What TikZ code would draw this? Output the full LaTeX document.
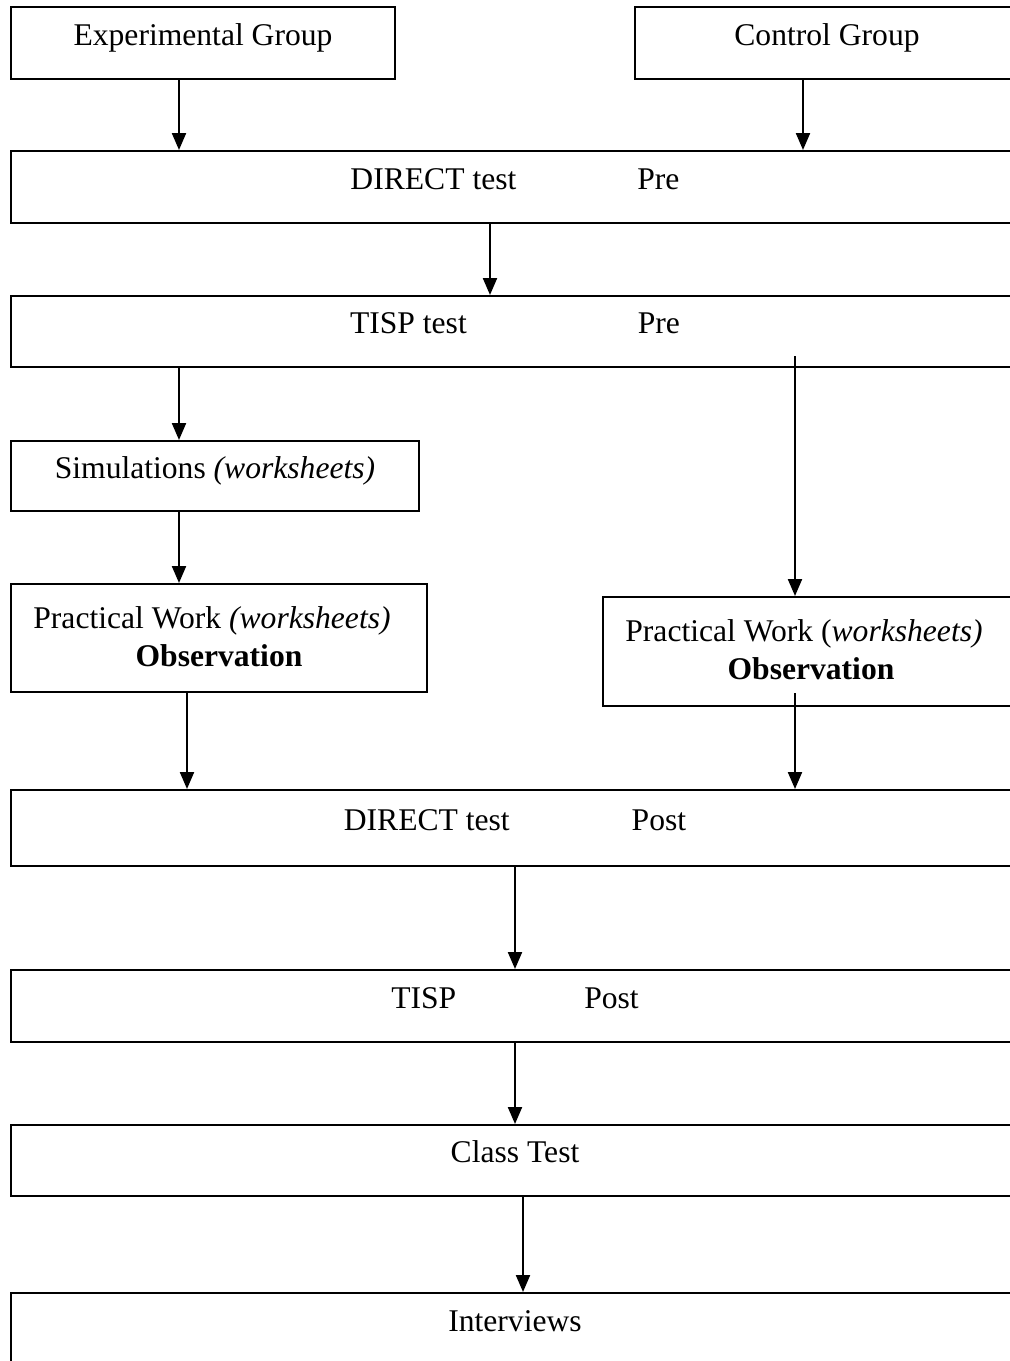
\documentclass[tikz,border=0pt]{standalone}
\usepackage{fontspec}
\setmainfont{Liberation Serif}
\usepackage{tikz}
\usetikzlibrary{arrows.meta}

\tikzset{
  box/.style={draw, line width=2pt, inner sep=0pt, align=center,
    font=\fontsize{31.6}{38}\selectfont},
  onerow/.style={box, text height=0.7em, text depth=0.25em},
  arr/.style={line width=2.2pt, -{Triangle[length=17pt,width=14pt]}}
}

\begin{document}
\begin{tikzpicture}[x=1pt,y=-1pt]
  \useasboundingbox (0,0) rectangle (1010,1361);

  % groups
  \node[onerow, minimum width=384pt, minimum height=72pt] (exp) at (203,43) {Experimental Group};
  \node[onerow, minimum width=384pt, minimum height=72pt] (ctrl) at (827,43) {Control Group};

  % pre tests
  \node[onerow, minimum width=1008pt, minimum height=72pt] (dpre) at (515,187) {DIRECT test\hspace{121pt}Pre};
  \node[onerow, minimum width=1008pt, minimum height=71pt] (tpre) at (515,331.5) {TISP test\hspace{171pt}Pre};

  % treatment
  \node[onerow, minimum width=408pt, minimum height=70pt] (sim) at (215,476) {Simulations \textit{(worksheets)}};
  \node[box, minimum width=416pt, minimum height=108pt] (pwl) at (219,638)
    {\raisebox{3pt}{Practical Work \textit{(worksheets)}\hspace{14pt}}\\ \raisebox{3pt}{\textbf{Observation}}};
  \node[box, minimum width=416pt, minimum height=109pt] (pwr) at (811,651.5)
    {\raisebox{3pt}{Practical Work (\textit{worksheets)}\hspace{14pt}}\\ \raisebox{3pt}{\textbf{Observation}}};

  % post tests
  \node[onerow, minimum width=1008pt, minimum height=76pt] (dpost) at (515,828) {DIRECT test\hspace{122pt}Post};
  \node[onerow, minimum width=1008pt, minimum height=72pt] (tpost) at (515,1006) {TISP\hspace{128pt}Post};
  \node[onerow, minimum width=1008pt, minimum height=71pt] (cls) at (515,1160.5) {Class Test};
  \node[onerow, minimum width=1008pt, minimum height=72pt] (intv) at (515,1329) {Interviews};

  % arrows
  \draw[arr] ([xshift=-24pt]exp.south) -- ([xshift=-24pt]exp.south |- dpre.north);
  \draw[arr] ([xshift=-24pt]ctrl.south) -- ([xshift=-24pt]ctrl.south |- dpre.north);
  \draw[arr] ([xshift=-25pt]dpre.south) -- ([xshift=-25pt]dpre.south |- tpre.north);
  \draw[arr] ([xshift=-36pt]sim.north |- tpre.south) -- ([xshift=-36pt]sim.north);
  \draw[arr] ([xshift=-16pt,yshift=12pt]pwr.north |- tpre.south) -- ([xshift=-16pt]pwr.north);
  \draw[arr] ([xshift=-36pt]sim.south) -- ([xshift=-36pt]sim.south |- pwl.north);
  \draw[arr] ([xshift=-32pt]pwl.south) -- ([xshift=-32pt]pwl.south |- dpost.north);
  \draw[arr] ([xshift=-16pt,yshift=14pt]pwr.south) -- ([xshift=-16pt]pwr.south |- dpost.north);
  \draw[arr] (dpost.south) -- (tpost.north);
  \draw[arr] (tpost.south) -- (cls.north);
  \draw[arr] ([xshift=8pt]cls.south) -- ([xshift=8pt]cls.south |- intv.north);
\end{tikzpicture}
\end{document}
